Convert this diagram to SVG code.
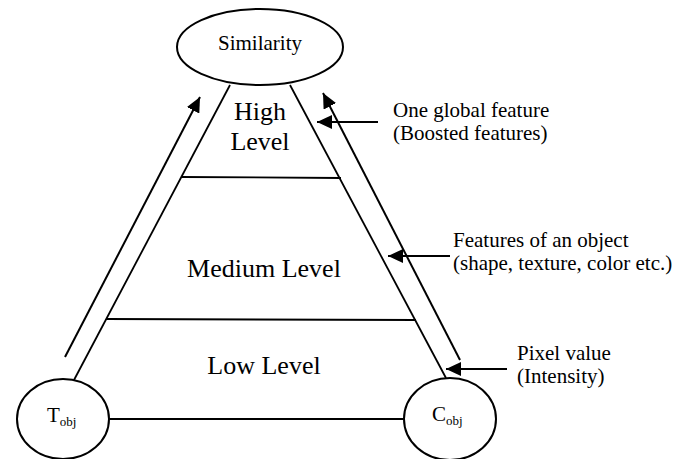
<svg xmlns="http://www.w3.org/2000/svg" width="689" height="459" viewBox="0 0 689 459">
<style>
.e{fill:#fff;stroke:#000;stroke-width:2}
.ln{stroke:#000;stroke-width:1.8;fill:none}
.ar{stroke:#000;stroke-width:2;fill:none;marker-end:url(#ah)}
text{font-family:"Liberation Serif","Times New Roman",serif;fill:#000}
.lv{font-size:26px;text-anchor:middle}
.nt{font-size:21px}
.sb{font-size:13px}
.pt{font-size:21px}
</style>
<defs>
<marker id="ah" markerUnits="userSpaceOnUse" markerWidth="16" markerHeight="14" refX="15" refY="7" orient="auto">
<path d="M0,0 L15,7 L0,14 z" fill="#000"/>
</marker>
</defs>
<g id="connectors">
<line class="ln" x1="230" y1="85" x2="74" y2="380"/>
<line class="ln" x1="290" y1="85" x2="446" y2="378"/>
<line class="ln" x1="181" y1="177" x2="341" y2="178"/>
<line class="ln" x1="106" y1="319" x2="416" y2="320"/>
<line class="ln" x1="109" y1="419" x2="404" y2="419"/>
<line class="ar" x1="65" y1="357" x2="200" y2="97"/>
<line class="ar" x1="460" y1="360" x2="323" y2="93"/>
<line class="ar" x1="378" y1="122" x2="317" y2="122"/>
<line class="ar" x1="450" y1="256" x2="388" y2="256"/>
<line class="ar" x1="507" y1="369" x2="446" y2="369"/>
</g>
<g id="similarity">
<ellipse class="e" cx="260" cy="47" rx="83" ry="38"/>
<text class="nt" x="260" y="50" text-anchor="middle">Similarity</text>
</g>
<g id="tobj">
<ellipse class="e" cx="63" cy="419" rx="46" ry="40"/>
<text class="nt" x="47" y="422">T<tspan class="sb" dy="4">obj</tspan></text>
</g>
<g id="cobj">
<ellipse class="e" cx="450" cy="419" rx="46" ry="41"/>
<text class="nt" x="432" y="421">C<tspan class="sb" dy="4">obj</tspan></text>
</g>
<g id="levels">
<text class="lv" x="260" y="120">High</text>
<text class="lv" x="260" y="150">Level</text>
<text class="lv" x="264" y="277">Medium Level</text>
<text class="lv" x="264" y="374">Low Level</text>
</g>
<g id="pointer-labels">
<text class="pt" x="393" y="117">One global feature</text>
<text class="pt" x="393" y="140">(Boosted features)</text>
<text class="pt" x="453" y="247">Features of an object</text>
<text class="pt" x="453" y="270">(shape, texture, color etc.)</text>
<text class="pt" x="517" y="360">Pixel value</text>
<text class="pt" x="517" y="383">(Intensity)</text>
</g>
</svg>
